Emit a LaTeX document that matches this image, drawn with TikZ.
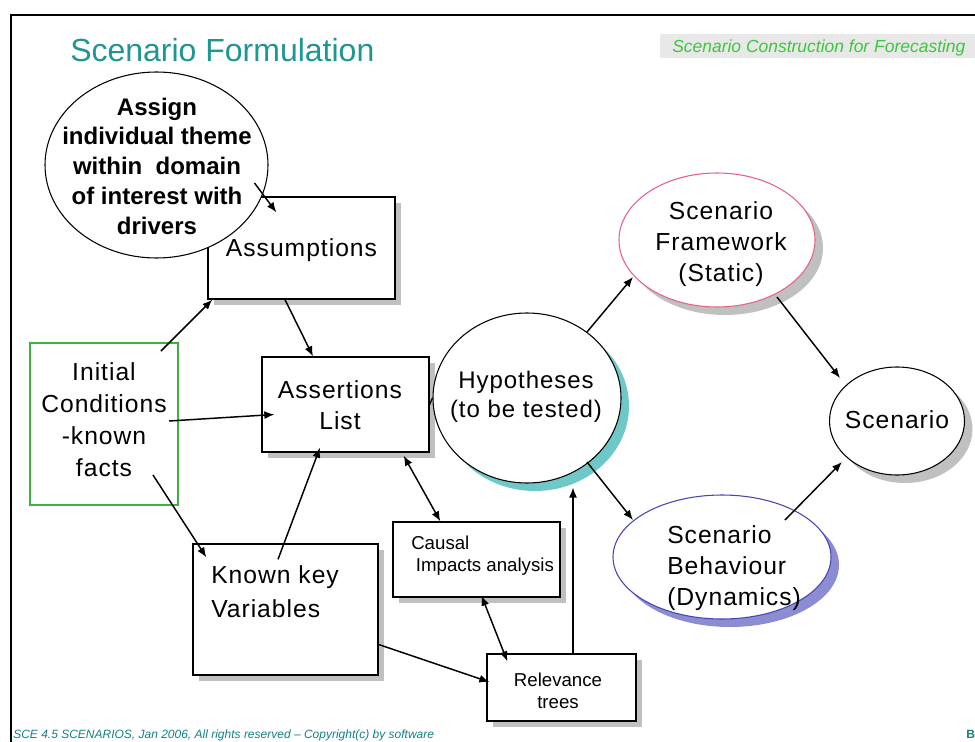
\documentclass[tikz,border=0pt]{standalone}
\usepackage{fontspec}
\setmainfont{Liberation Sans}
\newfontfamily\widefont[LetterSpace=4]{Liberation Sans}
\usetikzlibrary{shapes.geometric,arrows.meta,shadows}
\definecolor{titleteal}{RGB}{30,150,148}
\definecolor{footteal}{RGB}{20,130,130}
\definecolor{taggray}{RGB}{232,232,232}
\definecolor{taggreen}{RGB}{60,200,60}
\definecolor{icgreen}{RGB}{60,180,60}
\definecolor{fwpink}{RGB}{230,100,130}
\definecolor{bhblue}{RGB}{70,70,180}
\definecolor{bhshadow}{RGB}{140,140,210}
\definecolor{hypshadow}{RGB}{110,200,200}
\definecolor{shgray}{RGB}{192,192,192}
\tikzset{
  box/.style={draw=black, line width=1pt, fill=white, rectangle, inner sep=0pt},
  gshadow/.style={drop shadow={shadow xshift=4.5pt, shadow yshift=-4.5pt, fill=shgray, opacity=1}},
  eshadow/.style={drop shadow={shadow xshift=6pt, shadow yshift=-6pt, fill=#1, opacity=1}},
  ell/.style={draw=black, ellipse, fill=white, inner sep=0pt, line width=0.8pt},
  txt/.style={font=\widefont\fontsize{18.5}{24}\selectfont, align=center, inner sep=0pt},
  smalltxt/.style={font=\fontsize{14}{16.5}\selectfont, align=center, inner sep=0pt},
  arr/.style={-{Latex[length=7.5pt,width=6pt]}, line width=1.1pt},
  darr/.style={{Latex[length=7.5pt,width=6pt]}-{Latex[length=7.5pt,width=6pt]}, line width=1.1pt},
}
\begin{document}
\begin{tikzpicture}[x=0.75pt,y=-0.75pt]
\useasboundingbox (0,0) rectangle (975,742);
\fill[white] (0,0) rectangle (975,742);
% frame
\draw[line width=1.5pt] (11,742) -- (11,15) -- (975,15);
% title
\node[anchor=base west, text=titleteal, font=\fontsize{24}{28}\selectfont, inner sep=0pt] (title) at (70,62) {Scenario Formulation};
% tag
\node[fill=taggray, anchor=north west, minimum width={315*0.75pt}, minimum height={24*0.75pt}, inner sep=0pt] (tagbox) at (660,34) {};
\node[anchor=base west, text=taggreen, font=\itshape\fontsize{13.1}{15}\selectfont, inner sep=0pt] (tag) at (672,53) {Scenario Construction for Forecasting};
% footer
\node[anchor=base west, text=footteal, font=\itshape\fontsize{9}{10}\selectfont, inner sep=0pt] (foot) at (13,738) {SCE 4.5 SCENARIOS, Jan 2006, All rights reserved -- Copyright(c) by software};
\node[anchor=base west, text=footteal, font=\bfseries\fontsize{9}{10}\selectfont, inner sep=0pt] (footb) at (966,738) {B};

% boxes
\node[box, gshadow, minimum width={187*0.75pt}, minimum height={102*0.75pt}] (asm) at (301.5,248) {};
\node[txt] (asmt) at (301.5,250) {Assumptions};

\node[ell, minimum width={223*0.75pt}, minimum height={186*0.75pt}] (assign) at (156.5,165) {};
\node[font=\bfseries\fontsize{18}{22.3}\selectfont, align=center, inner sep=0pt] (assignt) at (157,166) {Assign\\individual theme\\within\ \ domain\\of interest with\\drivers};

\node[box, draw=icgreen, line width=1.5pt, minimum width={148*0.75pt}, minimum height={162*0.75pt}] (ic) at (104,424) {};
\node[txt] (ict) at (104,420) {Initial\\Conditions\\-known\\facts};

\node[box, gshadow, minimum width={167*0.75pt}, minimum height={95*0.75pt}] (as) at (345.5,404.5) {};
\node[txt, font=\widefont\fontsize{18.5}{23}\selectfont] (ast) at (340,405) {Assertions\\List};

\node[box, gshadow, minimum width={185*0.75pt}, minimum height={131*0.75pt}] (kv) at (285.5,609.5) {};
\node[txt, align=left, anchor=west, font=\widefont\fontsize{18.5}{25.5}\selectfont] (kvt) at (211,592) {Known key\\Variables};

\node[box, gshadow, minimum width={167*0.75pt}, minimum height={75*0.75pt}] (ca) at (476.5,559.5) {};
\node[smalltxt, align=left, anchor=west] (cat) at (411,556) {Causal\\\hspace*{3.5pt}Impacts analysis};

\node[box, gshadow, minimum width={149*0.75pt}, minimum height={67*0.75pt}] (rel) at (561.5,687.5) {};
\node[smalltxt] (relt) at (558,691) {Relevance\\trees};

% ellipses
\node[ell, eshadow=hypshadow, minimum width={188*0.75pt}, minimum height={170*0.75pt}] (hyp) at (527,398) {};
\node[txt, font=\widefont\fontsize{18}{22}\selectfont] (hypt) at (526,397) {Hypotheses\\(to be tested)};

\node[ell, draw=fwpink, eshadow=shgray, minimum width={196*0.75pt}, minimum height={134*0.75pt}] (fw) at (717,240) {};
\node[txt, font=\widefont\fontsize{18.5}{23.5}\selectfont] (fwt) at (721,244) {Scenario\\Framework\\(Static)};

\node[ell, eshadow=shgray, minimum width={135*0.75pt}, minimum height={108*0.75pt}] (sc) at (897,421) {};
\node[txt] (sct) at (897,420) {Scenario};

\node[ell, draw=bhblue, eshadow=bhshadow, minimum width={218*0.75pt}, minimum height={124*0.75pt}] (bh) at (722,557) {};
\node[txt, align=left, anchor=west, font=\widefont\fontsize{18.5}{23.5}\selectfont] (bht) at (667,568) {Scenario\\Behaviour\\(Dynamics)};

% connectors
\draw[arr] ([shift={(98,18)}]assign.center) -- ([shift={(69,16)}]asm.north west);
\draw[arr] ([shift={(-18,9)}]ic.north east) -- ([shift={(5,0)}]asm.south west);
\draw[arr] ([shift={(-16.5,0)}]asm.south) -- ([shift={(-32.5,0)}]as.north);
\draw[arr] ([shift={(-10,-3)}]ic.east) -- ([shift={(13,10)}]as.west);
\draw[arr] ([shift={(49,51)}]ic.center) -- ([shift={(14,14)}]kv.north west);
\draw[arr] ([shift={(-7.5,16)}]kv.north) -- ([shift={(-25.5,-5)}]as.south);
\draw[line width=1pt] (as.east) -- (hyp.west);
\draw[darr] ([shift={(-26,3)}]as.south east) -- ([shift={(48,0)}]ca.north west);
\draw[darr] ([shift={(5,-2)}]ca.south) -- ([shift={(21,8)}]rel.north west);
\draw[arr] ([shift={(0,35)}]kv.east) -- ([shift={(3,-5.5)}]rel.west);
\draw[arr] ([shift={(11.5,0)}]rel.north) -- ([shift={(46,4)}]hyp.south);
\draw[arr] ([shift={(60,-66)}]hyp.center) -- ([shift={(-84,37)}]fw.center);
\draw[arr] ([shift={(60,64)}]hyp.center) -- ([shift={(-89,-37)}]bh.center);
\draw[arr] ([shift={(60,57)}]fw.center) -- ([shift={(-57,-43)}]sc.center);
\draw[arr] ([shift={(63,-37)}]bh.center) -- ([shift={(-55,41)}]sc.center);
\end{tikzpicture}
\end{document}
